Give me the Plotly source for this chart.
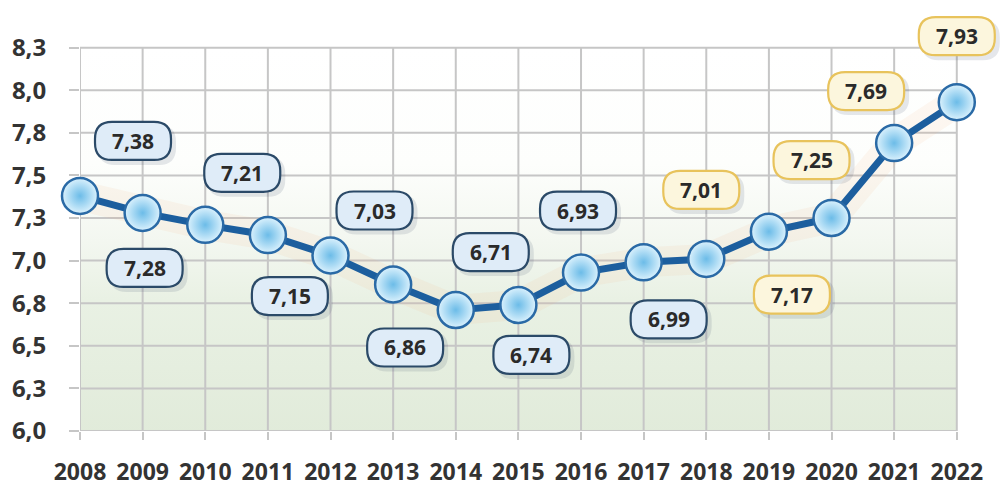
import plotly.graph_objects as go

# ---- data ----
years = [2008, 2009, 2010, 2011, 2012, 2013, 2014, 2015, 2016, 2017, 2018, 2019, 2020, 2021, 2022]
values = [7.38, 7.28, 7.21, 7.15, 7.03, 6.86, 6.71, 6.74, 6.93, 6.99, 7.01, 7.17, 7.25, 7.69, 7.93]
highlight_years = [2018, 2019, 2020, 2021, 2022]
y_tickvals = [6.0, 6.25, 6.5, 6.75, 7.0, 7.25, 7.5, 7.75, 8.0, 8.25]
y_ticktext = ["6,0", "6,3", "6,5", "6,8", "7,0", "7,3", "7,5", "7,8", "8,0", "8,3"]

# ---- label bubble placement (pixel offsets from the point) ----
label_dx = [53, 2, 37, 22, 44, 12, 35, 13, -3, 25, -5, 23, -20, -28, 0]
label_dy = [55, -55, 52, -61, 45, -63, 58, -50, 62, -57, 69, -63, 58, 52, 66]

FONT = "Open Sans"
W, H, R = 78, 40, 17
GRID = "#c6c6c6"
Y_MIN, Y_TOP = y_tickvals[0], y_tickvals[-1]
X_MIN, X_MAX = years[0], years[-1]
# extra room above / right so that the top-right bubble is not clipped
Y_RANGE_TOP = Y_TOP + 0.221
X_RANGE_RIGHT = X_MAX + 0.69

def fmt(v):
    return f"{v:.2f}".replace(".", ",")

def rounded_path(cx, cy, w, h, r):
    x0, x1 = cx - w / 2, cx + w / 2
    y0, y1 = cy - h / 2, cy + h / 2
    return (f"M{x0+r},{y0} L{x1-r},{y0} Q{x1},{y0} {x1},{y0+r} "
            f"L{x1},{y1-r} Q{x1},{y1} {x1-r},{y1} L{x0+r},{y1} "
            f"Q{x0},{y1} {x0},{y1-r} L{x0},{y0+r} Q{x0},{y0} {x0+r},{y0} Z")

fig = go.Figure()

# background gradient of the chart frame
fig.add_trace(go.Scatter(
    x=[X_MIN, X_MAX], y=[Y_TOP, Y_TOP],
    mode="none", fill="tozeroy",
    fillgradient=dict(type="vertical", start=Y_MIN, stop=Y_TOP,
                      colorscale=[[0, "#e1ebda"], [0.35, "#e9f1e4"], [0.5, "#f3f7f0"],
                                  [0.7, "#fdfefc"], [1, "#ffffff"]]),
    hoverinfo="skip", showlegend=False))

# grid lines inside the frame
gx, gy = [], []
for yr in years:
    gx += [yr, yr, None]
    gy += [Y_MIN, Y_TOP, None]
for tv in y_tickvals:
    gx += [X_MIN, X_MAX, None]
    gy += [tv, tv, None]
fig.add_trace(go.Scatter(x=gx, y=gy, mode="lines", line=dict(color=GRID, width=2),
                         hoverinfo="skip", showlegend=False))

# soft glow behind the line
fig.add_trace(go.Scatter(
    x=years, y=values, mode="lines",
    line=dict(color="rgba(245,180,130,0.10)", width=30),
    hoverinfo="skip", showlegend=False))

# main line + markers
fig.add_trace(go.Scatter(
    x=years, y=values, mode="lines+markers",
    line=dict(color="#1c5e9e", width=7),
    marker=dict(size=36, color="#dcf2fd",
                gradient=dict(type="radial", color="#6cbce8"),
                line=dict(color="#2a6aa6", width=2.5)),
    showlegend=False, cliponaxis=False))

shapes = []
annotations = []
for yr, v, dx, dy in zip(years, values, label_dx, label_dy):
    yellow = yr in highlight_years
    fill = "#fcf6dd" if yellow else "#dfecf8"
    border = "#e8c35c" if yellow else "#2b4a68"
    shapes.append(dict(type="path", xref="x", yref="y", xsizemode="pixel", ysizemode="pixel",
                       xanchor=yr, yanchor=v, path=rounded_path(dx + 4, dy - 4, W, H, R),
                       fillcolor="rgba(40,60,90,0.12)", line=dict(width=0), layer="above"))
    shapes.append(dict(type="path", xref="x", yref="y", xsizemode="pixel", ysizemode="pixel",
                       xanchor=yr, yanchor=v, path=rounded_path(dx, dy, W - 2, H - 2, R),
                       fillcolor=fill, line=dict(color=border, width=2.2), layer="above"))
    annotations.append(dict(x=yr, y=v, xref="x", yref="y", text=f"<b>{fmt(v)}</b>",
                            showarrow=False, xshift=dx, yshift=dy,
                            font=dict(family=FONT, size=21, color="#2a2a2a")))

fig.update_layout(
    width=1000, height=487,
    margin=dict(l=80, r=0, t=10, b=52),
    paper_bgcolor="white", plot_bgcolor="white",
    shapes=shapes, annotations=annotations,
    font=dict(family=FONT, color="#333333"),
    hovermode=False,
    xaxis=dict(range=[X_MIN, X_RANGE_RIGHT], tickmode="array", tickvals=years,
               ticktext=[f"<b>{y}</b>" for y in years],
               showgrid=False,
               ticks="outside", ticklen=8, tickcolor=GRID, tickwidth=2,
               ticklabelstandoff=12, tickfont=dict(family=FONT, size=23, color="#333333"),
               zeroline=False, showline=False),
    yaxis=dict(range=[Y_MIN, Y_RANGE_TOP], tickmode="array", tickvals=y_tickvals,
               ticktext=[f"<b>{t}</b>" for t in y_ticktext],
               showgrid=False,
               ticks="outside", ticklen=10, tickcolor=GRID, tickwidth=2,
               ticklabelstandoff=18, tickfont=dict(family=FONT, size=24, color="#333333"),
               zeroline=False, showline=False),
)

fig.write_html("out.html", config={"displayModeBar": False},
               post_script="document.body.style.margin='0';document.body.style.overflow='hidden';")
